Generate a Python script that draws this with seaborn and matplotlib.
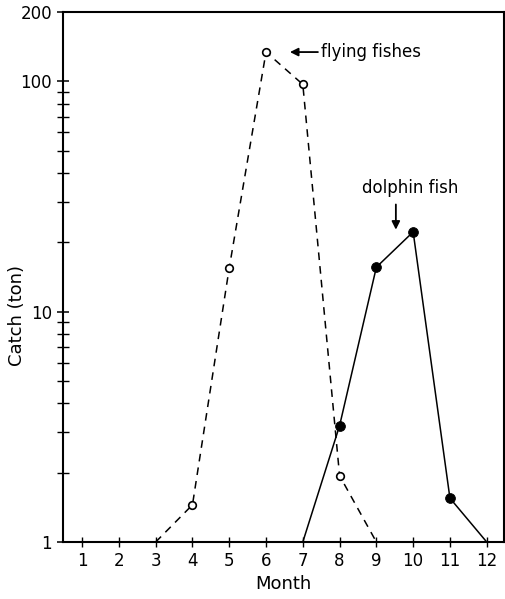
import matplotlib
matplotlib.use("Agg")
import matplotlib.pyplot as plt
import matplotlib.ticker as mticker
import seaborn as sns
import pandas as pd

months_flying = [3, 4, 5, 6, 7, 8, 9]
catch_flying = [1.0, 1.45, 15.5, 134, 97, 1.94, 1.0]
months_dolphin = [7, 8, 9, 10, 11, 12]
catch_dolphin = [1.0, 3.2, 15.6, 22.2, 1.55, 1.0]
month_ticks = list(range(1, 13))
y_ticks = [1, 10, 100, 200]

sns.set_style("ticks")
plt.rcParams['font.family'] = ['DejaVu Sans']
plt.rcParams['text.color'] = 'black'
plt.rcParams['axes.labelcolor'] = 'black'
plt.rcParams['xtick.color'] = 'black'
plt.rcParams['ytick.color'] = 'black'

fig = plt.figure(figsize=(5.05, 5.99), dpi=100)
ax = fig.add_axes([63/505, 1 - 542/599, (504 - 63)/505, (542 - 12)/599])

df_f = pd.DataFrame({"Month": months_flying, "Catch": catch_flying})
df_d = pd.DataFrame({"Month": months_dolphin, "Catch": catch_dolphin})

sns.lineplot(data=df_f, x="Month", y="Catch", ax=ax, color="black",
             linestyle=(0, (5, 4)), linewidth=1.1)
sns.lineplot(data=df_d, x="Month", y="Catch", ax=ax, color="black",
             linestyle="-", linewidth=1.1)
sns.scatterplot(data=df_f.iloc[1:-1], x="Month", y="Catch", ax=ax, marker="o",
                s=30, facecolor="white", edgecolor="black", linewidth=1.2, zorder=5)
sns.scatterplot(data=df_d.iloc[1:-1], x="Month", y="Catch", ax=ax, marker="o",
                s=50, color="black", edgecolor="black", zorder=5)

ax.set_yscale("log")
ax.set_ylim(1, 200)
ax.set_xlim(0.48, 12.47)
ax.set_xticks(month_ticks)
ax.set_xticklabels([str(m) for m in month_ticks], fontsize=12)
ax.set_yticks(y_ticks)
ax.yaxis.set_major_formatter(mticker.FixedFormatter([str(v) for v in y_ticks]))
ax.yaxis.set_minor_locator(mticker.LogLocator(base=10, subs=range(2, 10)))
ax.yaxis.set_minor_formatter(mticker.NullFormatter())
ax.tick_params(axis="y", which="major", direction="inout", length=9, width=1.1, labelsize=12)
ax.tick_params(axis="y", which="minor", direction="inout", length=8, width=1.0)
ax.tick_params(axis="x", which="major", direction="inout", length=7, width=1.0, labelsize=12)

for side in ["left", "bottom", "top", "right"]:
    ax.spines[side].set_visible(True)
    ax.spines[side].set_linewidth(1.5)
    ax.spines[side].set_color("black")

ax.set_xlabel("Month", fontsize=13)
ax.set_ylabel("Catch (ton)", fontsize=13)
ax.yaxis.set_label_coords(-0.084, 0.428)

ax.annotate("flying fishes", xy=(6.65, 134), xytext=(7.5, 134),
            fontsize=12, va="center", ha="left",
            arrowprops=dict(arrowstyle="-|>", color="black", lw=1.3, mutation_scale=12,
                            shrinkA=0, shrinkB=0))
ax.text(9.91, 34.3, "dolphin fish", fontsize=12, ha="center", va="center")
ax.annotate("", xy=(9.53, 22.7), xytext=(9.53, 29.2),
            arrowprops=dict(arrowstyle="-|>", color="black", lw=1.3, mutation_scale=12,
                            shrinkA=0, shrinkB=0))

fig.savefig("out.png", dpi=100)
